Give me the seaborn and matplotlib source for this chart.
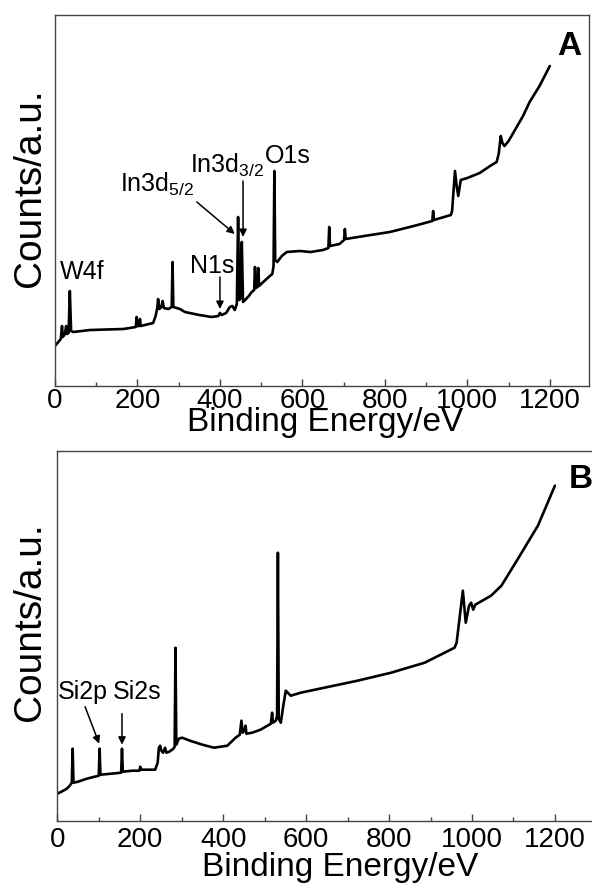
import numpy as np
import pandas as pd
import matplotlib
matplotlib.use("Agg")
import matplotlib.pyplot as plt
import seaborn as sns
from matplotlib.ticker import MultipleLocator

# ---------------- data ----------------
energy_a = [0, 8, 14, 17, 19, 24, 27, 29, 33, 36, 39, 44, 85, 166, 196, 198, 200, 204, 206, 208,
            238, 244, 248, 250, 253, 258, 261, 264, 275, 283, 285, 287, 295, 303, 315, 350, 380,
            396, 400, 404, 415, 424, 430, 436, 441, 444, 447, 450, 453, 456, 461, 470, 477, 483,
            485, 487, 491, 493, 495, 505, 521, 527, 530, 532, 534, 539, 550, 562, 594, 620, 650,
            663, 665, 667, 690, 701, 703, 705, 750, 812, 870, 915, 917, 919, 960, 963, 970, 974,
            978, 984, 1000, 1030, 1055, 1071, 1076, 1081, 1085, 1090, 1100, 1135, 1151, 1175, 1200]
counts_a = [40, 44, 47, 60, 49, 52, 60, 52, 53, 95, 55, 54, 56, 57, 59, 69, 60, 60, 67, 60,
            63, 70, 78, 87, 77, 79, 85, 78, 77, 79, 124, 79, 78, 77, 74, 71, 69,
            70, 73, 71, 73, 79, 80, 76, 82, 169, 86, 88, 144, 84, 86, 90, 94, 96,
            119, 98, 99, 118, 100, 104, 110, 112, 120, 215, 126, 124, 130, 134, 135, 134, 136,
            138, 159, 140, 142, 146, 157, 147, 150, 154, 160, 165, 175, 166, 171, 175, 215, 200,
            190, 206, 208, 213, 220, 224, 232, 250, 243, 240, 245, 270, 284, 300, 320]

energy_b = [0, 10, 23, 30, 35, 37, 39, 50, 71, 90, 100, 102, 104, 130, 154, 156, 158, 180, 198, 200,
            202, 236, 242, 245, 248, 251, 255, 260, 263, 270, 280, 283, 285, 287, 293, 301, 320,
            350, 378, 410, 430, 440, 444, 447, 451, 454, 456, 470, 490, 515, 518, 520, 527, 530,
            532, 534, 539, 545, 551, 563, 587, 644, 724, 805, 886, 958, 963, 978, 985, 993, 998,
            1003, 1008, 1046, 1071, 1111, 1159, 1200]
counts_b = [27, 29, 32, 35, 38, 72, 38, 39, 42, 44, 45, 72, 46, 47, 48, 72, 49, 50, 50, 54,
            51, 51, 58, 73, 75, 70, 68, 73, 68, 69, 72, 74, 173, 76, 82, 83, 80,
            76, 73, 75, 83, 86, 100, 88, 90, 95, 87, 88, 91, 97, 108, 98, 100, 105,
            268, 102, 98, 115, 130, 125, 128, 133, 140, 148, 158, 173, 178, 230, 198, 215, 218,
            211, 216, 225, 235, 262, 295, 335]

x_ticks = [0, 200, 400, 600, 800, 1000, 1200]

# ---------------- style ----------------
sns.set_theme(style="white")
plt.rcParams["font.family"] = ["Liberation Sans", "DejaVu Sans"]
plt.rcParams["mathtext.fontset"] = "custom"
plt.rcParams["mathtext.rm"] = "Liberation Sans"
plt.rcParams["mathtext.it"] = "Liberation Sans:italic"
plt.rcParams["mathtext.bf"] = "Liberation Sans:bold"
plt.rcParams["mathtext.default"] = "regular"
plt.rcParams["text.color"] = "black"
plt.rcParams["axes.labelcolor"] = "black"
plt.rcParams["xtick.color"] = "black"

fig = plt.figure(figsize=(5.92, 8.87), dpi=100)
W, H = 592.0, 887.0
ax_a = fig.add_axes([55 / W, 1 - 387 / H, 534 / W, 371 / H])
ax_b = fig.add_axes([57.3 / W, 1 - 821.7 / H, 537 / W, 370 / H])

df_a = pd.DataFrame({"Energy": energy_a, "Counts": counts_a})
df_b = pd.DataFrame({"Energy": energy_b, "Counts": counts_b})

sns.lineplot(data=df_a, x="Energy", y="Counts", ax=ax_a, color="black", lw=1.9,
             estimator=None, sort=False)
sns.lineplot(data=df_b, x="Energy", y="Counts", ax=ax_b, color="black", lw=1.9,
             estimator=None, sort=False)

for ax, ymax, pad in [(ax_a, 371, 0.5), (ax_b, 370, 4.0)]:
    ax.set_xlim(0, 1295)
    ax.set_ylim(0, ymax)
    ax.set_xticks(x_ticks)
    ax.xaxis.set_minor_locator(MultipleLocator(100))
    ax.set_yticks([])
    ax.tick_params(axis="x", which="major", direction="in", length=5, width=1,
                   labelsize=20, pad=pad, color="#444444", labelcolor="black", bottom=True)
    ax.tick_params(axis="x", which="minor", direction="in", length=3, width=1,
                   color="#444444", bottom=True)
    for s in ax.spines.values():
        s.set_color("#444444")
        s.set_linewidth(1.0)
    ax.set_xlabel("Binding Energy/eV", fontsize=24, color="black")
    ax.set_ylabel("Counts/a.u.", fontsize=28, color="black")
    ax.xaxis.label.set_va("center")
    ax.yaxis.label.set_va("center")

ax_a.xaxis.set_label_coords(0.506, -0.097)
ax_a.yaxis.set_label_coords(-0.047, 0.536)
ax_b.xaxis.set_label_coords(0.526, -0.124)
ax_b.yaxis.set_label_coords(-0.05, 0.54)

fs = 18
arrow = dict(arrowstyle="-|>", color="black", lw=1.1, mutation_scale=11, shrinkA=0, shrinkB=0)

# Panel A labels
ax_a.text(65, 115, "W4f", fontsize=fs, ha="center", va="center")
ax_a.text(382, 121, "N1s", fontsize=fs, ha="center", va="center")
ax_a.annotate("", xy=(400, 77), xytext=(400, 109), arrowprops=dict(arrow))
ax_a.text(157, 195, "In3d$_{5/2}$", fontsize=fs, ha="left", va="baseline")
ax_a.annotate("", xy=(436, 152), xytext=(344, 184), arrowprops=dict(arrow))
ax_a.text(327, 214, "In3d$_{3/2}$", fontsize=fs, ha="left", va="baseline")
ax_a.annotate("", xy=(456, 149), xytext=(456, 205), arrowprops=dict(arrow))
ax_a.text(509, 224, "O1s", fontsize=fs, ha="left", va="baseline")
ax_a.text(1217, 332, "A", fontsize=24, fontweight="bold", ha="left", va="baseline")

# Panel B labels
ax_b.text(1, 123, "Si2p", fontsize=fs, ha="left", va="baseline")
ax_b.annotate("", xy=(101, 77), xytext=(67, 114), arrowprops=dict(arrow))
ax_b.text(135, 123, "Si2s", fontsize=fs, ha="left", va="baseline")
ax_b.annotate("", xy=(156, 76), xytext=(156, 107), arrowprops=dict(arrow))
ax_b.text(1233, 334, "B", fontsize=24, fontweight="bold", ha="left", va="baseline")

fig.savefig("out.png", dpi=100)
